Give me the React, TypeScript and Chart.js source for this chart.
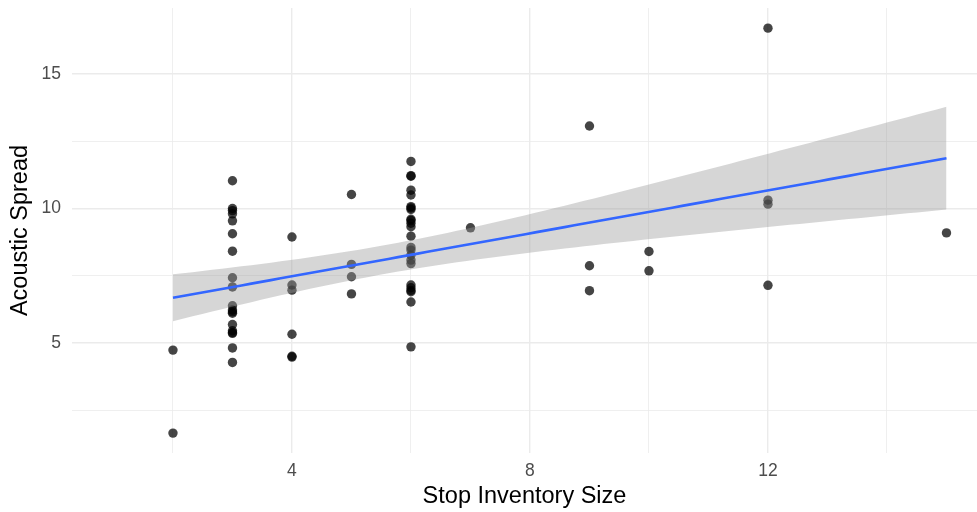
import React, { useEffect, useRef } from "react";
import { Chart, registerables } from "chart.js";

Chart.register(...registerables);

// Observations: stop inventory size (x) and acoustic spread (y), one entry per stop system
const inventorySize = [
  2, 2,
  3, 3, 3, 3, 3, 3, 3, 3, 3, 3, 3, 3, 3, 3, 3, 3, 3, 3, 3,
  4, 4, 4, 4, 4, 4,
  5, 5, 5, 5,
  6, 6, 6, 6, 6, 6, 6, 6, 6, 6, 6, 6, 6, 6, 6, 6, 6, 6, 6, 6, 6, 6, 6, 6,
  7,
  9, 9, 9,
  10, 10,
  12, 12, 12, 12,
  15,
];

const acousticSpread = [
  4.73, 1.64,
  11.03, 10.0, 9.92, 9.8, 9.54, 9.06, 8.41, 7.42, 7.08, 6.38, 6.22, 6.15, 6.1, 5.68, 5.45, 5.38, 5.35, 4.81, 4.27,
  8.94, 7.15, 6.96, 5.32, 4.5, 4.47,
  10.52, 7.92, 7.46, 6.82,
  11.75, 11.22, 11.2, 10.68, 10.5, 10.07, 10.02, 9.96, 9.6, 9.55, 9.45, 9.32, 8.97, 8.55, 8.45, 8.27, 8.08, 7.95, 7.15, 7.05, 6.95, 6.9, 6.52, 4.85,
  9.28,
  13.07, 7.87, 6.94,
  8.4, 7.68,
  16.71, 10.31, 10.16, 7.14,
  9.09,
];

// Axis ticks: gridlines at every entry, labels only on the major ones
const xGridTicks = [2, 4, 6, 8, 10, 12, 14];
const xLabelTicks = [4, 8, 12];
const yGridTicks = [2.5, 5, 7.5, 10, 12.5, 15];
const yLabelTicks = [5, 10, 15];

const xRange = [0.303, 15.513];
const yRange = [0.9, 17.46];

const SANS = "'Liberation Sans', Arial, Helvetica, sans-serif";

// Upper 97.5% quantile of Student's t (Cornish-Fisher expansion)
function tQuantile975(df: number): number {
  const z = 1.959964;
  const z3 = z * z * z;
  const z5 = z3 * z * z;
  return (
    z +
    (z3 + z) / (4 * df) +
    (5 * z5 + 16 * z3 + 3 * z) / (96 * df * df)
  );
}

// Ordinary least squares fit with a 95% confidence band
function linearFit(xs: number[], ys: number[], steps: number) {
  const n = xs.length;
  const mx = xs.reduce((s, v) => s + v, 0) / n;
  const my = ys.reduce((s, v) => s + v, 0) / n;
  let sxx = 0;
  let sxy = 0;
  for (let i = 0; i < n; i++) {
    sxx += (xs[i] - mx) * (xs[i] - mx);
    sxy += (xs[i] - mx) * (ys[i] - my);
  }
  const slope = sxy / sxx;
  const intercept = my - slope * mx;
  let sse = 0;
  for (let i = 0; i < n; i++) {
    const r = ys[i] - (intercept + slope * xs[i]);
    sse += r * r;
  }
  const sigma = Math.sqrt(sse / (n - 2));
  const t = tQuantile975(n - 2);
  const lo = Math.min(...xs);
  const hi = Math.max(...xs);
  const line: { x: number; y: number }[] = [];
  const upper: { x: number; y: number }[] = [];
  const lower: { x: number; y: number }[] = [];
  for (let k = 0; k < steps; k++) {
    const x = lo + ((hi - lo) * k) / (steps - 1);
    const yhat = intercept + slope * x;
    const se = sigma * Math.sqrt(1 / n + ((x - mx) * (x - mx)) / sxx);
    line.push({ x, y: yhat });
    upper.push({ x, y: yhat + t * se });
    lower.push({ x, y: yhat - t * se });
  }
  return { line, upper, lower };
}

export default function App() {
  const canvasRef = useRef<HTMLCanvasElement | null>(null);

  useEffect(() => {
    const canvas = canvasRef.current;
    if (!canvas) return;

    const points = inventorySize.map((x, i) => ({ x, y: acousticSpread[i] }));
    const fit = linearFit(inventorySize, acousticSpread, 80);

    const gridColor = "#EBEBEB";

    const chart = new Chart(canvas, {
      type: "scatter",
      data: {
        datasets: [
          {
            label: "fit",
            data: fit.line,
            showLine: true,
            borderColor: "#3366FF",
            borderWidth: 2.6,
            pointRadius: 0,
            fill: false,
            order: 0,
          },
          {
            label: "upper",
            data: fit.upper,
            showLine: true,
            borderWidth: 0,
            borderColor: "rgba(0,0,0,0)",
            pointRadius: 0,
            fill: false,
            order: 1,
          },
          {
            label: "lower",
            data: fit.lower,
            showLine: true,
            borderWidth: 0,
            borderColor: "rgba(0,0,0,0)",
            backgroundColor: "rgba(153,153,153,0.4)",
            pointRadius: 0,
            fill: "-1",
            order: 1,
          },
          {
            label: "stops",
            data: points,
            pointRadius: 4.7,
            pointBorderWidth: 0,
            pointBackgroundColor: "rgba(0,0,0,0.73)",
            pointBorderColor: "rgba(0,0,0,0)",
            order: 2,
          },
        ],
      },
      options: {
        animation: false,
        responsive: true,
        maintainAspectRatio: false,
        layout: {
          autoPadding: false,
          padding: { top: 8, left: 0, right: 0, bottom: 0 },
        },
        plugins: {
          legend: { display: false },
          tooltip: { enabled: false },
        },
        scales: {
          x: {
            type: "linear",
            min: xRange[0],
            max: xRange[1],
            afterBuildTicks: (scale: any) => {
              scale.ticks = xGridTicks.map((v) => ({ value: v }));
            },
            afterFit: (scale: any) => {
              scale.height = 59;
              scale.paddingLeft = 0;
              scale.paddingRight = 0;
            },
            border: { display: false },
            grid: {
              drawTicks: false,
              color: gridColor,
              lineWidth: (ctx: any) =>
                xLabelTicks.includes(ctx.tick?.value) ? 1.4 : 0.8,
            },
            ticks: {
              autoSkip: false,
              maxRotation: 0,
              padding: 7.8,
              color: "#4D4D4D",
              font: { family: SANS, size: 17.5 },
              callback: (v: any) =>
                xLabelTicks.includes(Number(v)) ? String(v) : "",
            },
            title: {
              display: true,
              text: "Stop Inventory Size",
              color: "#000000",
              font: { family: SANS, size: 23.5 },
              padding: { top: 0, bottom: 0.9 },
            },
          },
          y: {
            type: "linear",
            min: yRange[0],
            max: yRange[1],
            afterBuildTicks: (scale: any) => {
              scale.ticks = yGridTicks.map((v) => ({ value: v }));
            },
            afterFit: (scale: any) => {
              scale.width = 72;
              scale.paddingTop = 0;
              scale.paddingBottom = 0;
            },
            border: { display: false },
            grid: {
              drawTicks: false,
              color: gridColor,
              lineWidth: (ctx: any) =>
                yLabelTicks.includes(ctx.tick?.value) ? 1.4 : 0.8,
            },
            ticks: {
              autoSkip: false,
              padding: 11,
              color: "#4D4D4D",
              font: { family: SANS, size: 17.5 },
              callback: (v: any) =>
                yLabelTicks.includes(Number(v)) ? String(v) : "",
            },
            title: {
              display: true,
              text: "Acoustic Spread",
              color: "#000000",
              font: { family: SANS, size: 23.5 },
              padding: { top: 6.4, bottom: 0 },
            },
          },
        },
      },
    });

    return () => {
      chart.destroy();
    };
  }, []);

  return (
    <div
      style={{
        position: "fixed",
        left: 0,
        top: 0,
        width: 977,
        height: 512,
        background: "#FFFFFF",
      }}
    >
      <canvas ref={canvasRef} />
    </div>
  );
}
